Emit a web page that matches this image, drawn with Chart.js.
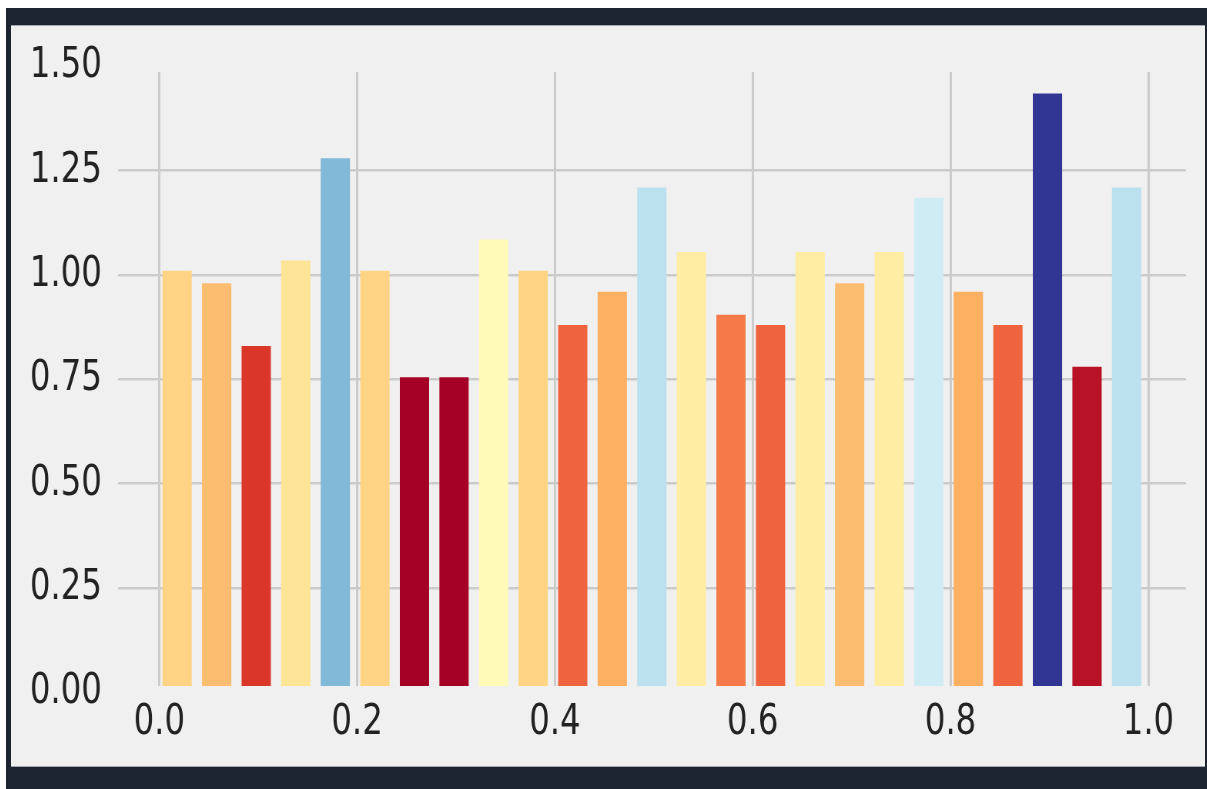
<!DOCTYPE html>
<html>
<head>
<meta charset="utf-8">
<script src="https://cdn.jsdelivr.net/npm/chart.js@4.4.1/dist/chart.umd.min.js"></script>
<style>
  html, body { margin: 0; padding: 0; background: #ffffff; }
  body { width: 1207px; height: 789px; position: relative; overflow: hidden; }
  #frame { position: absolute; left: 6px; top: 8px; width: 1201px; height: 781px; background: #1b2430; }
  #panel { position: absolute; left: 11px; top: 25px; width: 1194px; height: 742px; background: #f0f0f0;
           box-shadow: inset 0 1px 0 #a4a9ae, inset 0 -1px 0 #a4a9ae; }
  /* the figure is laid out wide and drawn horizontally condensed */
  #stage { position: absolute; left: 11px; top: 25px; width: 1551px; height: 742px;
           transform: scaleX(0.77); transform-origin: 0 0; }
</style>
</head>
<body>
<div id="frame"></div>
<div id="panel"></div>
<div id="stage"><canvas id="chart"></canvas></div>
<script>
// bar centres along x
const positions = [0.018, 0.058, 0.098, 0.138, 0.178, 0.218, 0.258, 0.298, 0.338, 0.378,
                   0.418, 0.458, 0.498, 0.538, 0.578, 0.618, 0.658, 0.698, 0.738, 0.778,
                   0.818, 0.858, 0.898, 0.938, 0.978];
// bar heights
const values = [1.01, 0.98, 0.83, 1.035, 1.28, 1.01, 0.755, 0.755, 1.085, 1.01,
                0.88, 0.96, 1.21, 1.055, 0.905, 0.88, 1.055, 0.98, 1.055, 1.185,
                0.96, 0.88, 1.435, 0.78, 1.21];
// axis ticks
const xTicks = [0.0, 0.2, 0.4, 0.6, 0.8, 1.0];
const yTicks = [0.0, 0.25, 0.5, 0.75, 1.0, 1.25, 1.5];

// RdYlBu colour map stops
const RDYLBU = ['#a50026', '#d73027', '#f46d43', '#fdae61', '#fee090', '#ffffbf',
                '#e0f3f8', '#abd9e9', '#74add1', '#4575b4', '#313695'];

function hexToRgb(h) {
  return [parseInt(h.slice(1, 3), 16), parseInt(h.slice(3, 5), 16), parseInt(h.slice(5, 7), 16)];
}
function rdylbu(t) {
  t = Math.min(1, Math.max(0, t));
  const pos = t * (RDYLBU.length - 1);
  const i = Math.min(Math.floor(pos), RDYLBU.length - 2);
  const f = pos - i;
  const a = hexToRgb(RDYLBU[i]), b = hexToRgb(RDYLBU[i + 1]);
  const c = a.map((v, k) => Math.round(v + (b[k] - v) * f));
  return `rgb(${c[0]},${c[1]},${c[2]})`;
}

const vMin = Math.min(...values), vMax = Math.max(...values);
const barColors = values.map(v => rdylbu((v - vMin) / (vMax - vMin)));

const FONT = { family: "'DejaVu Sans', 'Liberation Sans', sans-serif", size: 42 };
const GRID = '#cbcbcb';

new Chart(document.getElementById('chart'), {
  type: 'bar',
  data: {
    datasets: [{
      data: positions.map((x, i) => ({ x: x, y: values[i] })),
      backgroundColor: barColors,
      borderWidth: 0,
      categoryPercentage: 1.0,
      barPercentage: 0.74,
      clip: 0
    }]
  },
  options: {
    responsive: true,
    maintainAspectRatio: false,
    animation: false,
    devicePixelRatio: 1,
    layout: { padding: { left: 0, right: 25, top: 47, bottom: 0 } },
    plugins: { legend: { display: false }, tooltip: { enabled: false } },
    scales: {
      x: {
        type: 'linear',
        offset: false,
        min: -0.0417,
        max: 1.0381,
        afterBuildTicks: s => { s.ticks = xTicks.map(v => ({ value: v })); },
        afterFit: s => { s.height = 81; },
        border: { display: false },
        grid: { color: GRID, lineWidth: 3, drawTicks: false, offset: false },
        ticks: {
          autoSkip: false, maxRotation: 0, padding: 12,
          color: '#222', font: FONT,
          callback: v => Number(v).toFixed(1)
        }
      },
      y: {
        type: 'linear',
        min: 0.015,
        max: 1.4866,
        afterBuildTicks: s => { s.ticks = yTicks.map(v => ({ value: v })); },
        afterFit: s => { s.width = 139; },
        border: { display: false },
        grid: {
          lineWidth: 2.5, drawTicks: false,
          color: c => (c.tick && (c.tick.value <= 0 || c.tick.value >= 1.5)) ? 'rgba(0,0,0,0)' : GRID
        },
        ticks: {
          autoSkip: false, padding: 21,
          color: '#222', font: FONT,
          callback: v => Number(v).toFixed(2)
        }
      }
    }
  }
});
</script>
</body>
</html>
